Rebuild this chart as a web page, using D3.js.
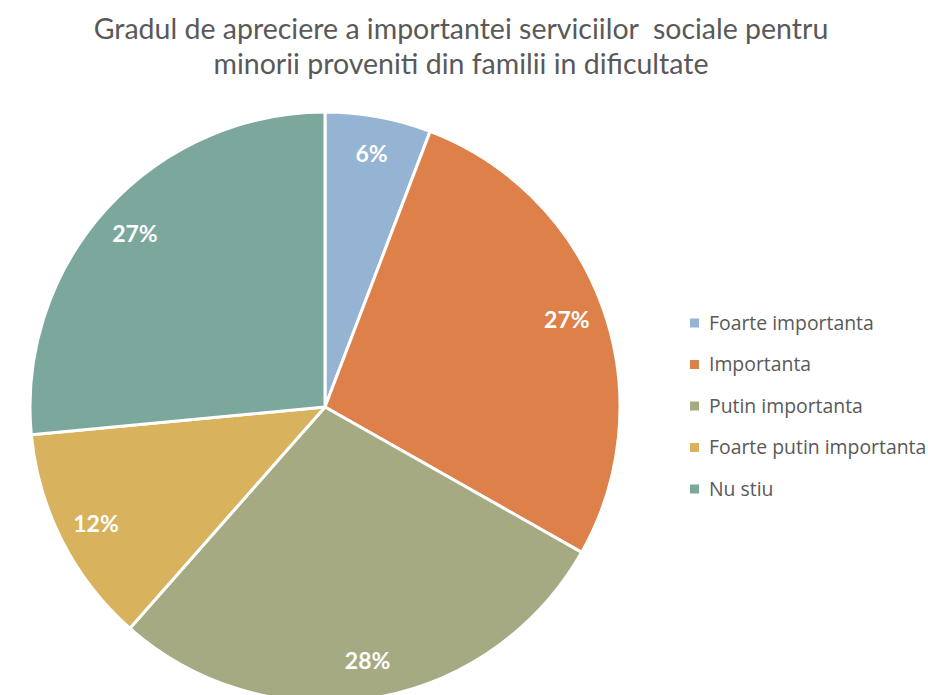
<!DOCTYPE html>
<html><head><meta charset="utf-8">
<script src="https://cdn.jsdelivr.net/npm/d3@7"></script>
<style>body{margin:0;background:#fff}svg{display:block}</style>
</head><body>
<svg id="c" width="928" height="695"></svg>
<script>
const categories = ["Foarte importanta","Importanta","Putin importanta","Foarte putin importanta","Nu stiu"];
const values = [5.8, 27.4, 28.3, 12.0, 26.5];
const colors = ["#95B3D3","#DE8049","#A5AA82","#D8B25C","#7BA79D"];
const titleLines = ["Gradul de apreciere a importantei serviciilor  sociale pentru","minorii proveniti din familii in dificultate"];

const svg = d3.select("#c");
const cx = 325, cy = 407, r = 295;

svg.append("g").selectAll("text").data(titleLines).join("text")
  .attr("x", 461).attr("y", (d,i)=>39 + i*35)
  .attr("text-anchor","middle")
  .attr("font-family","Lato, 'Open Sans', sans-serif")
  .attr("font-size", 28.5).attr("fill","#595959")
  .style("white-space","pre")
  .text(d=>d);

const pie = d3.pie().sort(null).value(d=>d)(values);
const arc = d3.arc().innerRadius(0).outerRadius(r);
const labelArc = d3.arc().innerRadius(257).outerRadius(257);
const g = svg.append("g").attr("transform",`translate(${cx},${cy})`);
g.selectAll("path").data(pie).join("path")
  .attr("d", arc).attr("fill",(d,i)=>colors[i])
  .attr("stroke","#fff").attr("stroke-width",3).attr("stroke-linejoin","round");
g.selectAll("text").data(pie).join("text")
  .attr("transform", d=>`translate(${labelArc.centroid(d)})`)
  .attr("text-anchor","middle").attr("dy","0.35em")
  .attr("font-family","Lato, sans-serif").attr("font-weight","bold")
  .attr("font-size",23).attr("fill","#fff")
  .text(d=>Math.round(d.data)+"%");

const leg = svg.append("g");
const ly = d3.scalePoint().domain(categories).range([323, 489]);
const items = leg.selectAll("g").data(categories).join("g")
  .attr("transform", d=>`translate(0,${ly(d)})`);
items.append("rect").attr("x",690).attr("y",-4.5).attr("width",9).attr("height",9)
  .attr("fill",(d,i)=>colors[i]);
items.append("text").attr("x",709).attr("dy","0.35em")
  .attr("font-family","'Open Sans', sans-serif").attr("font-size",19.4).attr("fill","#595959")
  .text(d=>d);
</script>
</body></html>
